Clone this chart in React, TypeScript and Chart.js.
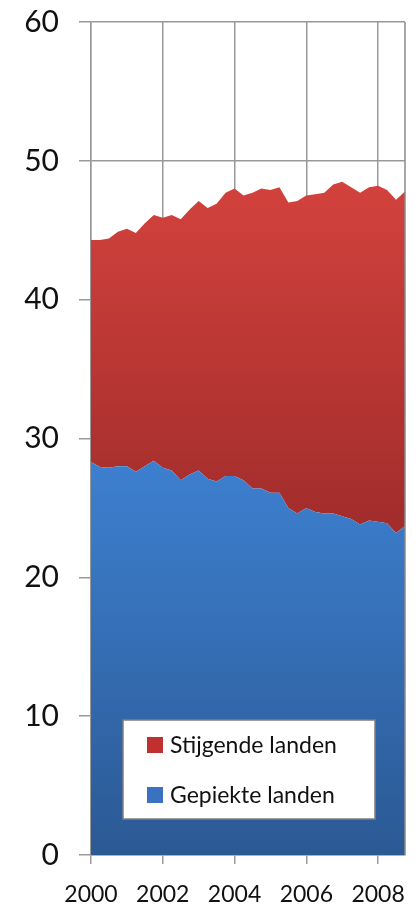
import React, { useEffect, useRef } from "react";
import { Chart, registerables } from "chart.js";

Chart.register(...registerables);

const quarters: number[] = [
  2000, 2000.25, 2000.5, 2000.75, 2001, 2001.25, 2001.5, 2001.75,
  2002, 2002.25, 2002.5, 2002.75, 2003, 2003.25, 2003.5, 2003.75,
  2004, 2004.25, 2004.5, 2004.75, 2005, 2005.25, 2005.5, 2005.75,
  2006, 2006.25, 2006.5, 2006.75, 2007, 2007.25, 2007.5, 2007.75,
  2008, 2008.25, 2008.5, 2008.75,
];

const gepiekteLanden: number[] = [
  28.3, 27.95, 27.9, 28.0, 28.0, 27.6, 28.0, 28.4,
  27.9, 27.7, 27.0, 27.4, 27.7, 27.1, 26.9, 27.3,
  27.3, 27.0, 26.4, 26.4, 26.1, 26.1, 25.0, 24.6,
  25.0, 24.7, 24.6, 24.6, 24.4, 24.2, 23.8, 24.1,
  24.0, 23.9, 23.2, 23.7,
];

const stijgendeLanden: number[] = [
  16.0, 16.35, 16.5, 16.9, 17.1, 17.2, 17.5, 17.7,
  18.0, 18.4, 18.8, 19.1, 19.4, 19.5, 20.0, 20.4,
  20.7, 20.5, 21.3, 21.6, 21.8, 22.0, 22.0, 22.5,
  22.5, 22.9, 23.1, 23.7, 24.1, 23.9, 23.9, 24.0,
  24.2, 24.0, 24.0, 24.1,
];

const seriesLabels: string[] = ["Gepiekte landen", "Stijgende landen"];
const xTickYears: number[] = [2000, 2002, 2004, 2006, 2008];

const FONT = "Lato, 'Open Sans', sans-serif";

const legendPlugin = {
  id: "insideLegend",
  afterDraw(chart: any) {
    const ctx = chart.ctx;
    const x0 = 123, y0 = 720, w = 252, h = 99;
    ctx.save();
    ctx.fillStyle = "#ffffff";
    ctx.fillRect(x0, y0, w, h);
    ctx.strokeStyle = "#7f7f7f";
    ctx.lineWidth = 1.5;
    ctx.strokeRect(x0, y0, w, h);
    const items = [
      { label: chart.data.datasets[1].label, color: "#c0302f" },
      { label: chart.data.datasets[0].label, color: "#3a72bf" },
    ];
    ctx.font = `23px ${FONT}`;
    ctx.textBaseline = "middle";
    ctx.textAlign = "left";
    items.forEach((it, i) => {
      const cy = 745 + i * 50;
      ctx.fillStyle = it.color;
      ctx.fillRect(147, cy - 8, 16, 16);
      ctx.fillStyle = "#111111";
      ctx.fillText(it.label, 170, cy + 1);
    });
    ctx.restore();
  },
};

const borderPlugin = {
  id: "rightBorder",
  afterDatasetsDraw(chart: any) {
    const { ctx, chartArea } = chart;
    ctx.save();
    ctx.strokeStyle = "#8a8a8a";
    ctx.lineWidth = 1.5;
    ctx.beginPath();
    ctx.moveTo(chartArea.right, chartArea.top);
    ctx.lineTo(chartArea.right, chartArea.bottom);
    ctx.stroke();
    ctx.restore();
  },
};

function makeGradient(chart: any, topVal: number, botVal: number, cTop: string, cBot: string, fallback: string) {
  const { ctx, chartArea, scales } = chart;
  if (!chartArea || !scales || !scales.y) return fallback;
  const yTop = scales.y.getPixelForValue(topVal);
  const yBot = scales.y.getPixelForValue(botVal);
  const g = ctx.createLinearGradient(0, yTop, 0, yBot);
  g.addColorStop(0, cTop);
  g.addColorStop(1, cBot);
  return g;
}

export default function App() {
  const ref = useRef<HTMLCanvasElement | null>(null);

  useEffect(() => {
    if (!ref.current) return;
    const chart = new Chart(ref.current, {
      type: "line",
      data: {
        datasets: [
          {
            label: seriesLabels[0],
            data: quarters.map((q, i) => ({ x: q, y: gepiekteLanden[i] })),
            fill: "origin",
            borderWidth: 0,
            pointRadius: 0,
            tension: 0,
            backgroundColor: (c: any) =>
              makeGradient(c.chart, 28.5, 0, "#3d80d0", "#2b5994", "#3a72bf"),
          },
          {
            label: seriesLabels[1],
            data: quarters.map((q, i) => ({ x: q, y: stijgendeLanden[i] })),
            fill: "-1",
            borderWidth: 0,
            pointRadius: 0,
            tension: 0,
            backgroundColor: (c: any) =>
              makeGradient(c.chart, 48.5, 23, "#d3423d", "#a02c2b", "#c0302f"),
          },
        ],
      },
      options: {
        responsive: false,
        animation: false,
        layout: { padding: { top: 22, right: 13, left: 0, bottom: 0 } },
        plugins: { legend: { display: false }, tooltip: { enabled: false } },
        scales: {
          x: {
            type: "linear",
            min: 2000,
            max: 2008.75,
            afterFit: (s: any) => {
              s.height = 56;
              s.paddingLeft = 0;
              s.paddingRight = 0;
            },
            afterBuildTicks: (s: any) => {
              s.ticks = xTickYears.map((v) => ({ value: v }));
            },
            ticks: {
              callback: (v: any) => String(v),
              font: { family: FONT, size: 23 },
              color: "#111111",
              padding: 17,
              maxRotation: 0,
              autoSkip: false,
            },
            grid: {
              color: "#999999",
              lineWidth: 1.5,
              tickLength: 9,
              tickColor: "#999999",
            },
            border: { color: "#999999", width: 1.5 },
          },
          y: {
            type: "linear",
            stacked: true,
            min: 0,
            max: 60,
            afterFit: (s: any) => {
              s.width = 91;
              s.paddingTop = 0;
              s.paddingBottom = 0;
            },
            ticks: {
              stepSize: 10,
              font: { family: FONT, size: 30 },
              color: "#111111",
              padding: 20,
            },
            grid: {
              color: "#999999",
              lineWidth: 1.5,
              tickLength: 12,
              tickColor: "#999999",
            },
            border: { color: "#999999", width: 1.5 },
          },
        },
      },
      plugins: [borderPlugin, legendPlugin],
    } as any);
    return () => chart.destroy();
  }, []);

  return (
    <div style={{ position: "absolute", left: 0, top: 0, width: 418, height: 911, background: "#fff" }}>
      <canvas ref={ref} width={418} height={911} />
    </div>
  );
}
